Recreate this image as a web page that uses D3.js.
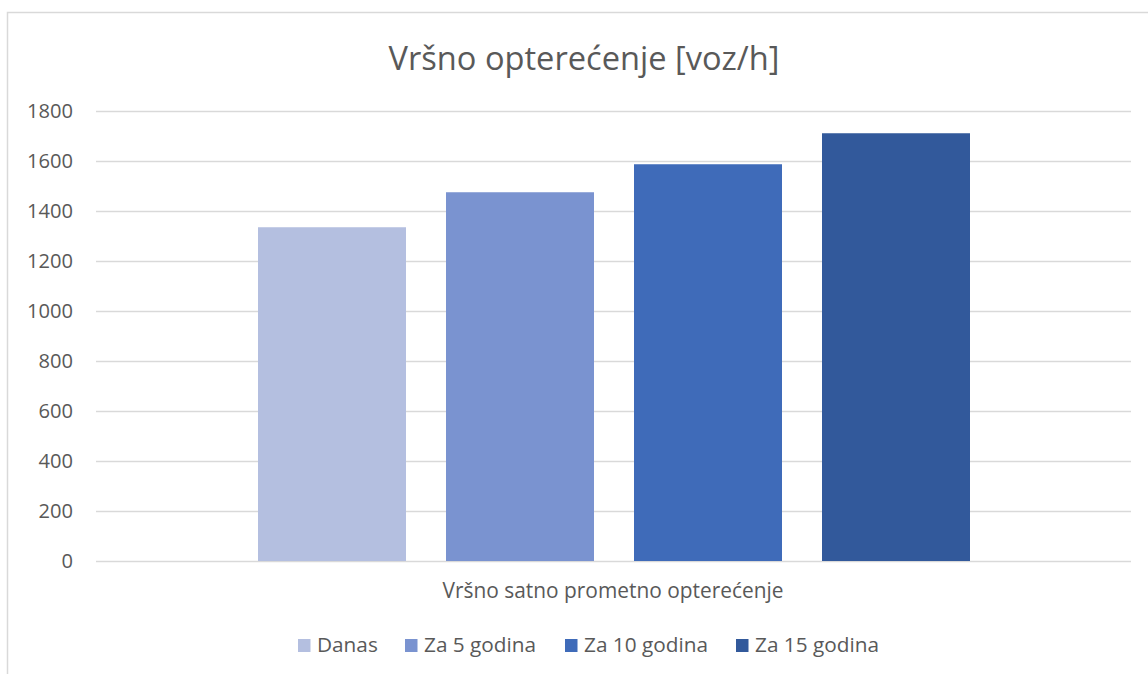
<!DOCTYPE html>
<html>
<head>
<meta charset="utf-8">
<script src="https://cdn.jsdelivr.net/npm/d3@7"></script>
<style>
  html, body { margin: 0; padding: 0; background: #fff; }
  svg { display: block; }
  text { font-family: "Open Sans", "Noto Sans", sans-serif; fill: #595959; }
</style>
</head>
<body>
<svg id="chart" width="1148" height="674"></svg>
<script>
const title = "Vršno opterećenje [voz/h]";
const categoryLabel = "Vršno satno prometno opterećenje";
const seriesNames = ["Danas", "Za 5 godina", "Za 10 godina", "Za 15 godina"];
const seriesValues = [1335, 1475, 1587, 1711];
const seriesColors = ["#b4bfe0", "#7a93d0", "#3f6bb9", "#32599b"];
const yTicks = [0, 200, 400, 600, 800, 1000, 1200, 1400, 1600, 1800];

const svg = d3.select("#chart");
const W = 1148, H = 674;

svg.append("rect")
  .attr("x", 7.5).attr("y", 12.5)
  .attr("width", W + 20).attr("height", H + 20)
  .attr("fill", "#fff").attr("stroke", "#d9d9d9").attr("stroke-width", 1.5);

const plot = { left: 96, right: 1131, top: 111, bottom: 561 };

const y = d3.scaleLinear().domain([0, 1800]).range([plot.bottom, plot.top]);
const x0 = d3.scaleBand().domain([categoryLabel]).range([plot.left, plot.right]).paddingInner(0).paddingOuter(0);
const x1 = d3.scaleBand().domain(seriesNames)
  .range([plot.left + 162, plot.right - 161]).paddingInner(40 / 188).paddingOuter(0);

function measure(txt, size) {
  const t = svg.append("text").style("font-size", size + "px").text(txt);
  const w = t.node().getComputedTextLength();
  t.remove();
  return w;
}
function sizeFor(txt, targetW, base) { return base * targetW / measure(txt, base); }

// gridlines
svg.append("g")
  .selectAll("line").data(yTicks).join("line")
  .attr("x1", plot.left).attr("x2", plot.right)
  .attr("y1", d => Math.round(y(d)) + 0.5).attr("y2", d => Math.round(y(d)) + 0.5)
  .attr("stroke", "#d9d9d9").attr("stroke-width", 1.5);

// y axis labels
const tickSize = sizeFor("1800", 46, 18);
const yAxis = d3.axisLeft(y).tickValues(yTicks).tickSize(0).tickPadding(0).tickFormat(d3.format("d"));
const gy = svg.append("g").attr("transform", `translate(73,0)`).call(yAxis);
gy.select(".domain").remove();
gy.selectAll("text")
  .attr("fill", "#595959")
  .attr("dy", "0.34em")
  .style("font-family", "'Open Sans', sans-serif")
  .style("font-size", tickSize + "px");

// bars
svg.append("g")
  .selectAll("rect").data(seriesNames.map((n, i) => ({ n, v: seriesValues[i], c: seriesColors[i] })))
  .join("rect")
  .attr("x", d => x1(d.n))
  .attr("width", x1.bandwidth())
  .attr("y", d => y(d.v))
  .attr("height", d => y(0) - y(d.v))
  .attr("fill", d => d.c);

// title
svg.append("text")
  .attr("x", 584).attr("y", 70)
  .attr("text-anchor", "middle")
  .style("font-size", sizeFor(title, 391, 28) + "px")
  .text(title);

// category axis label
svg.append("text")
  .attr("x", x0(categoryLabel) + x0.bandwidth() / 2 - 0.5).attr("y", 598)
  .attr("text-anchor", "middle")
  .style("font-size", sizeFor(categoryLabel, 341, 18) + "px")
  .text(categoryLabel);

// legend
const legendX = [298, 405, 565, 736];
const legSize = sizeFor("Za 10 godina", 124, 18);
const leg = svg.append("g");
seriesNames.forEach((n, i) => {
  leg.append("rect")
    .attr("x", legendX[i]).attr("y", 639)
    .attr("width", 12.5).attr("height", 13)
    .attr("fill", seriesColors[i]);
  leg.append("text")
    .attr("x", legendX[i] + 19).attr("y", 652)
    .style("font-size", legSize + "px")
    .text(n);
});
</script>
</body>
</html>
